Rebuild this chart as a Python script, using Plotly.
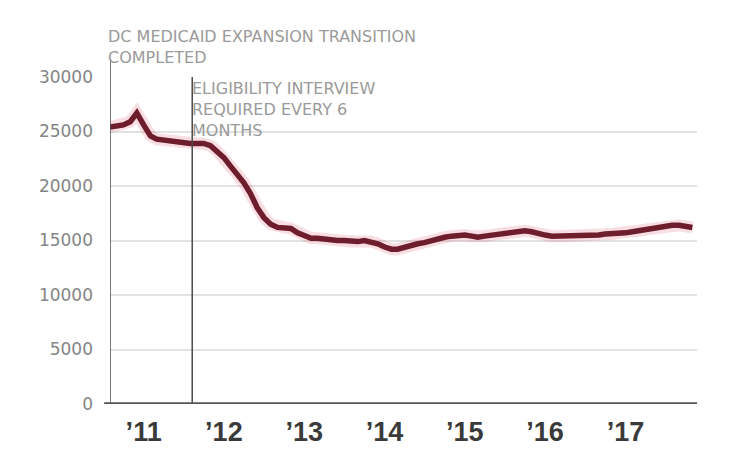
import plotly.graph_objects as go
import pandas as pd

# ---- data (monthly enrollment) ----
start_month = "2010-08-01"
enrollment = [
    25400, 25500, 25600, 25900, 26700,                      # Aug-Dec 2010
    25600, 24600, 24300, 24200, 24200, 24000, 23900, 23900,  # 2011 Jan-Aug
    23900, 23900, 23700, 23200,                              # 2011 Sep-Dec
    22600, 21800, 21100, 20300, 19300, 18000, 17100, 16500,  # 2012 Jan-Aug
    16200, 16200, 16100, 15700,                              # 2012 Sep-Dec
    15400, 15200, 15200, 15100, 15100, 15000, 15000, 14900,  # 2013 Jan-Aug
    14900, 15000, 14900, 14700,                              # 2013 Sep-Dec
    14400, 14200, 14200, 14400, 14500, 14700, 14800, 15000,  # 2014 Jan-Aug
    15200, 15300, 15400, 15500,                              # 2014 Sep-Dec
    15500, 15400, 15300, 15400, 15500, 15600, 15700, 15800,  # 2015 Jan-Aug
    15900, 15900, 15800, 15600,                              # 2015 Sep-Dec
    15500, 15400, 15400, 15400, 15400, 15400, 15400, 15500,  # 2016 Jan-Aug
    15500, 15600, 15600, 15700,                              # 2016 Sep-Dec
    15700, 15800, 15900, 16000, 16100, 16300, 16400, 16400,  # 2017 Jan-Aug
    16400, 16300, 16200,                                     # 2017 Sep-Nov
]
dates = pd.date_range(start_month, periods=len(enrollment), freq="MS")

tick_dates = ["2011-01-01", "2012-01-01", "2013-01-01", "2014-01-01",
              "2015-01-01", "2016-01-01", "2017-01-01"]
tick_text = ["\u201911", "\u201912", "\u201913", "\u201914", "\u201915", "\u201916", "\u201917"]
y_ticks = [0, 5000, 10000, 15000, 20000, 25000, 30000]

event_dates = ["2010-08-01", "2011-08-10"]
event_lines = [
    ["DC MEDICAID EXPANSION TRANSITION", "COMPLETED"],
    ["ELIGIBILITY INTERVIEW", "REQUIRED EVERY 6", "MONTHS"],
]

x_range = ["2010-08-01", "2017-11-22"]

fig = go.Figure()
# soft halo under the line
fig.add_trace(go.Scatter(x=dates, y=enrollment, mode="lines",
                         line=dict(color="rgba(215,70,100,0.18)", width=12),
                         hoverinfo="skip", showlegend=False))
fig.add_trace(go.Scatter(x=dates, y=enrollment, mode="lines",
                         line=dict(color="#6e1d2c", width=5.5),
                         showlegend=False))

# plot geometry helpers (paper coordinates)
top_px, bottom_px = 77, 404
h_px = bottom_px - top_px


def py(pix):
    return (bottom_px - pix) / h_px


# event vertical lines
fig.add_shape(type="line", xref="x", yref="paper", x0=event_dates[0], x1=event_dates[0],
              y0=0, y1=py(59), line=dict(color="#4a4a4a", width=1.5))
fig.add_shape(type="line", xref="x", yref="paper", x0=event_dates[1], x1=event_dates[1],
              y0=0, y1=py(77), line=dict(color="#4a4a4a", width=1.5))
# baseline
fig.add_shape(type="line", xref="paper", yref="y", x0=-0.01, x1=1.0, y0=0, y1=0,
              line=dict(color="#555555", width=3.5))

ann_font = dict(family="DejaVu Sans", size=16, color="#9a9a9a")
fig.add_annotation(x=event_dates[0], y=py(25), xref="x", yref="paper",
                   text="<br>".join(event_lines[0]), showarrow=False,
                   xanchor="left", yanchor="top", align="left", xshift=-4,
                   font=ann_font)
fig.add_annotation(x=event_dates[1], y=py(77), xref="x", yref="paper",
                   text="<br>".join(event_lines[1]), showarrow=False,
                   xanchor="left", yanchor="top", align="left", xshift=-2,
                   font=ann_font)

fig.update_layout(
    width=731, height=450,
    margin=dict(l=110, r=34, t=top_px, b=450 - bottom_px, autoexpand=False),
    paper_bgcolor="white", plot_bgcolor="white",
    xaxis=dict(type="date", range=x_range, tickmode="array", tickvals=tick_dates,
               ticktext=tick_text, showgrid=False, zeroline=False, showline=False,
               ticks="", ticklabelstandoff=9, automargin=False,
               tickfont=dict(family="Liberation Sans", size=27, color="#3a3a3a", weight="bold")),
    yaxis=dict(range=[0, 30000], tickmode="array", tickvals=y_ticks,
               ticktext=[str(v) for v in y_ticks], automargin=False,
               showgrid=True, gridcolor="#e2e2e2", gridwidth=2,
               zeroline=False, showline=False, ticks="", ticklabelstandoff=16,
               tickfont=dict(family="DejaVu Sans", size=17, color="#858585")),
)

fig.write_html("out.html")
